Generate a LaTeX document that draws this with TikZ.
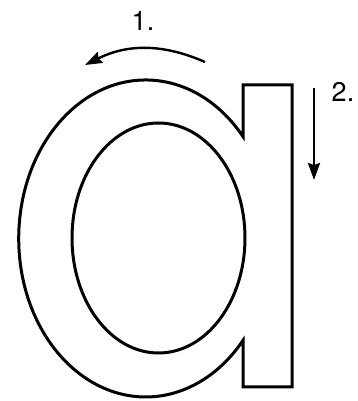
\documentclass[tikz,border=0pt]{standalone}
\usepackage{fontspec}
\setmainfont{TeX Gyre Heros}
\usetikzlibrary{arrows.meta}
\begin{document}
\begin{tikzpicture}[x=1pt, y=1pt, font=\fontsize{27}{30}\selectfont,
  letter/.style={line width=3pt, line join=miter},
  stroke/.style={line width=2.4pt, -{Stealth[length=17pt, width=12pt, inset=2pt]}}]
  \useasboundingbox (0,0) rectangle (358,401);
  % outline of the letter: bowl and stem, then the counter
  \draw[letter] (243,264.4) arc[start angle=40, end angle=320, x radius=127, y radius=158.5]
    -- (243,14) -- (292,14) -- (292,316) -- (243,316) -- cycle;
  \draw[letter] (158.5,163) ellipse[x radius=86.5, y radius=115];
  % stroke order
  \node (one) at (143,380) {1.};
  \node (two) at (343,309) {2.};
  \coordinate (s1) at (205,339);
  \coordinate (e1) at (85,336);
  \coordinate (s2) at (314,313);
  \coordinate (e2) at (314,221);
  \draw[stroke] (s1) to[bend right=25] (e1);
  \draw[stroke] (s2) -- (e2);
\end{tikzpicture}
\end{document}
